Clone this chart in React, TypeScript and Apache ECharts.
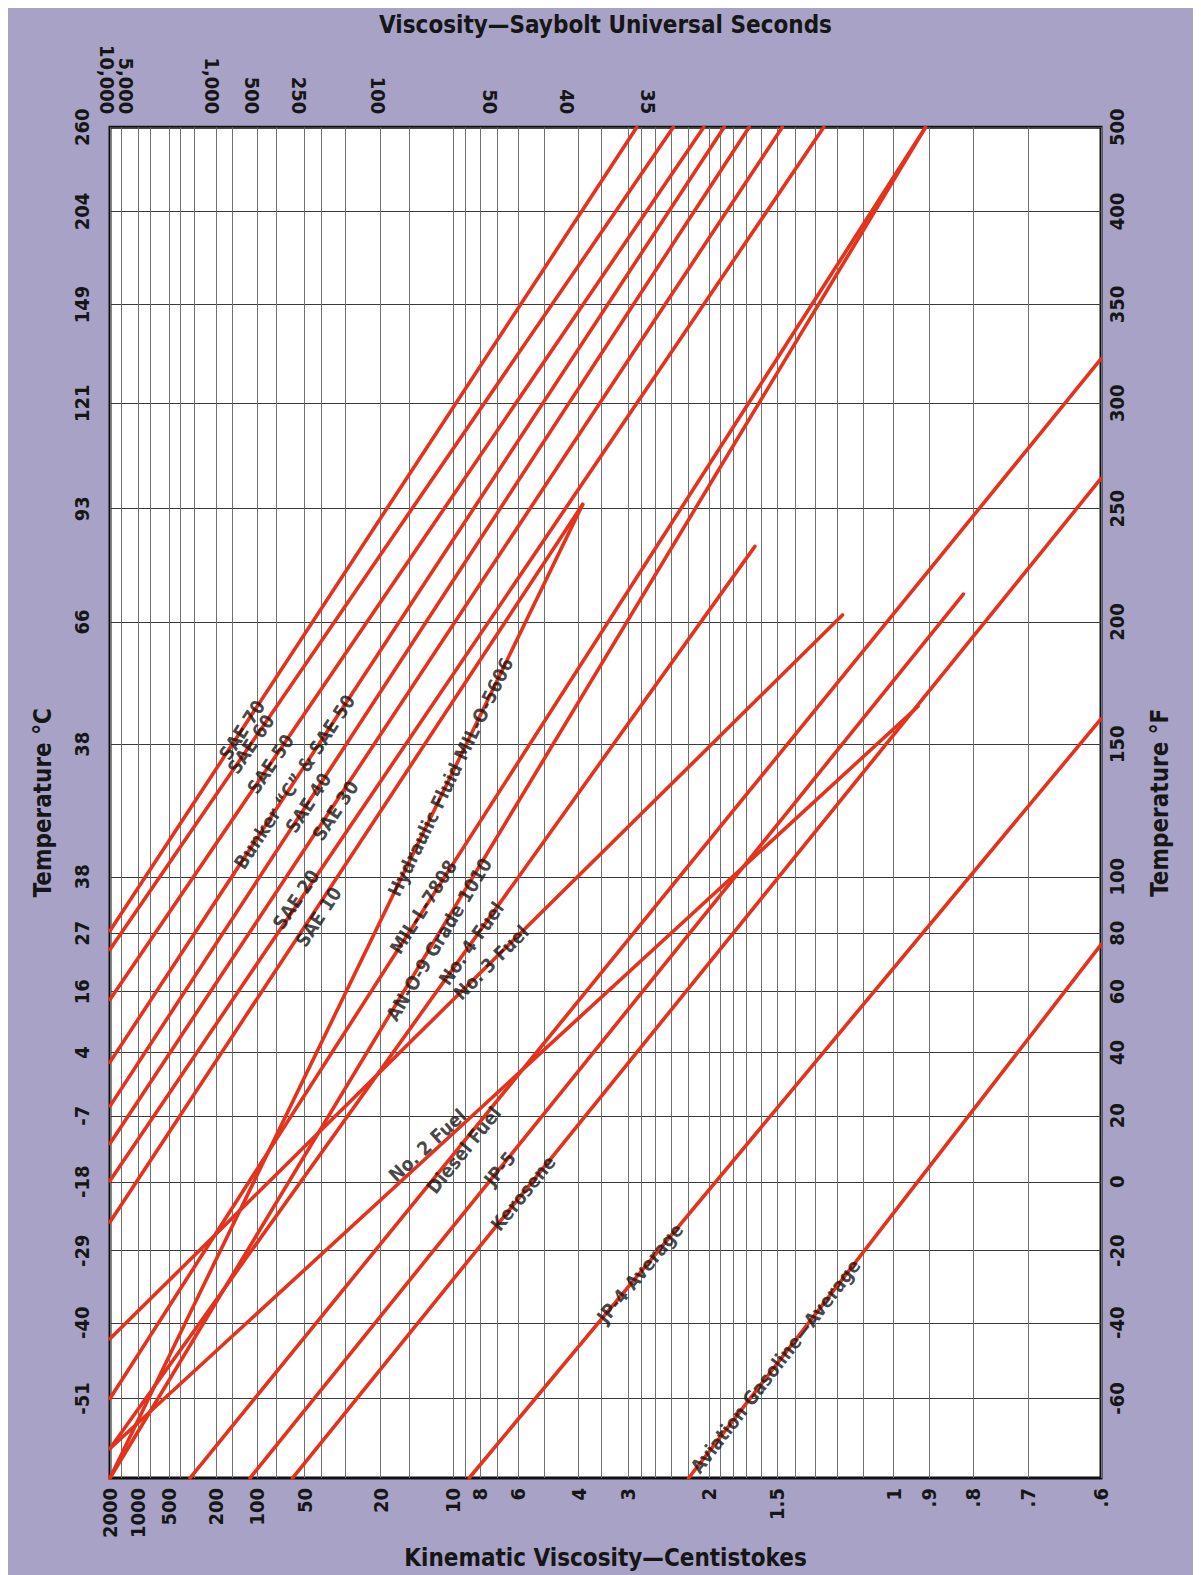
import React, { useEffect, useRef } from "react";
import * as echarts from "echarts";

// ---------------- axis definitions ----------------
const cstGrid = [2000, 1500, 1000, 750, 500, 400, 300, 200, 150, 100, 75, 50, 40, 30, 20, 15, 10, 9, 8, 7, 6, 5, 4, 3.5, 3, 2.8, 2.6, 2.4, 2.2, 2, 1.9, 1.8, 1.7, 1.6, 1.5, 1.4, 1.3, 1.2, 1.1, 1, 0.9, 0.8, 0.7, 0.6];
const cstTicks = [2000, 1000, 500, 200, 100, 50, 20, 10, 8, 6, 4, 3, 2, 1.5, 1, 0.9, 0.8, 0.7, 0.6];
const cstTickLabels = ["2000", "1000", "500", "200", "100", "50", "20", "10", "8", "6", "4", "3", "2", "1.5", "1", ".9", ".8", ".7", ".6"];
const susTickCst = [1700, 216, 108, 54, 20.6, 7.4, 4.3, 2.7];
const susTickLabels = ["5,000\n10,000", "1,000", "500", "250", "100", "50", "40", "35"];
const tempTicksF = [-60, -40, -20, 0, 20, 40, 60, 80, 100, 150, 200, 250, 300, 350, 400, 448];
const tempLabelsF = ["-60", "-40", "-20", "0", "20", "40", "60", "80", "100", "150", "200", "250", "300", "350", "400", "500"];
const tempLabelsC = ["-51", "-40", "-29", "-18", "-7", "4", "16", "27", "38", "38", "66", "93", "121", "149", "204", "260"];
const cstMin = 0.6;
const cstMax = 2000;
const tempMinF = -80;
const tempMaxF = 448;

// ---------------- line data: [cSt, °F] ----------------
const sae70 = [[2000, 80.8], [2.86, 448]];
const sae60 = [[2000, 74.3], [2.37, 448]];
const sae50 = [[2000, 57.4], [2.05, 448]];
const bunkerC = [[2000, 36.9], [1.87, 448]];
const sae40 = [[2000, 23.0], [1.68, 448]];
const sae30 = [[2000, 11.5], [1.47, 448]];
const sae20 = [[2000, 0.3], [1.26, 448]];
const sae10 = [[2000, -11.8], [3.9, 252]];
const hydraulic5606 = [[2000, -80], [3.9, 252]];
const mil7808 = [[2000, -60], [0.91, 448]];
const an09 = [[2000, -80], [0.91, 448]];
const no4Fuel = [[2000, -72.7], [1.64, 233]];
const no3Fuel = [[2000, -44.3], [1.18, 203]];
const no2Fuel = [[2000, -72.7], [0.93, 165]];
const dieselFuel = [[327, -80], [0.6, 322]];
const jp5 = [[112, -80], [0.82, 212]];
const kerosene = [[59, -80], [0.6, 264]];
const jp4 = [[8.73, -80], [0.6, 160]];
const avgas = [[2.2, -80], [0.6, 76]];

const lineNames = [
  "SAE 70", "SAE 60", "SAE 50", "Bunker \u201CC\u201D & SAE 50", "SAE 40", "SAE 30", "SAE 20", "SAE 10",
  "Hydraulic Fluid MIL-O-5606", "MIL-L-7808", "AN-O-9 Grade 1010", "No. 4 Fuel", "No. 3 Fuel",
  "No. 2 Fuel", "Diesel Fuel", "JP-5", "Kerosene", "JP-4 Average", "Aviation Gasoline\u2014Average",
];
const lineData = [
  sae70, sae60, sae50, bunkerC, sae40, sae30, sae20, sae10,
  hydraulic5606, mil7808, an09, no4Fuel, no3Fuel,
  no2Fuel, dieselFuel, jp5, kerosene, jp4, avgas,
];
// label placement: fraction along each line, and sideways shift in px (+ = up-left)
const labelAt = [0.25, 0.25, 0.27, 0.3, 0.31, 0.33, 0.265, 0.43, 0.72, 0.386, 0.4, 0.56, 0.52, 0.4, 0.296, 0.35, 0.285, 0.27, 0.21];
const labelShift = [0, 0, 0, 0, 0, -4, 4, -6, 0, 2, -3, 0, 0, 9, -5, 0, 0, 0, 0];

// ---------------- scales ----------------
const fx = (cst: number) => Math.log10(Math.log10(cst + 0.7));
const fy = (f: number) => Math.log10(f + 460);

const FONT = "'Liberation Sans Narrow','Arial Narrow','DejaVu Sans Condensed','DejaVu Sans',sans-serif";
const INK = "#161616";
const RED = "#e4321c";

function labeler(values: number[], labels: string[], tf: (v: number) => number) {
  const keys = values.map(tf);
  return (v: number) => {
    let best = -1;
    let bd = Infinity;
    keys.forEach((k, i) => {
      const d = Math.abs(k - v);
      if (d < bd) {
        bd = d;
        best = i;
      }
    });
    return bd < 1e-6 ? labels[best] : "";
  };
}

const tickFont = { fontSize: 20, fontWeight: "bold" as const, fontFamily: FONT, color: INK };
const nameFont = { fontSize: 24, fontWeight: "bold" as const, fontFamily: FONT, color: INK };

export default function App() {
  const ref = useRef<HTMLDivElement>(null);
  useEffect(() => {
    document.documentElement.style.overflow = "hidden";
    document.body.style.overflow = "hidden";
    if (!ref.current) return;
    const chart = echarts.init(ref.current, null, { renderer: "svg" });
    const xMin = fx(cstMin), xMax = fx(cstMax), yMin = fy(tempMinF), yMax = fy(tempMaxF);

    const lineSeries = lineData.map((pts, i) => ({
      type: "line",
      name: lineNames[i],
      xAxisIndex: 0,
      yAxisIndex: 0,
      showSymbol: false,
      symbol: "none",
      silent: true,
      z: 3,
      lineStyle: { color: RED, width: 3.6, cap: "round" },
      data: pts.map(([c, t]) => [fx(c), fy(t)]),
    }));

    const option: any = {
      animation: false,
      grid: {
        left: 102, right: 93, top: 100, bottom: 90,
        show: true, backgroundColor: "#ffffff", borderColor: "#111", borderWidth: 3,
      },
      xAxis: [
        {
          type: "value", position: "bottom", min: xMin, max: xMax, inverse: true,
          axisLine: { show: false },
          axisTick: { show: false, customValues: cstGrid.map(fx) },
          splitLine: { show: true, lineStyle: { color: "#707070", width: 1 } },
          axisLabel: {
            ...tickFont, rotate: 90, margin: 10, showMinLabel: true, showMaxLabel: true, hideOverlap: false,
            customValues: cstTicks.map(fx), formatter: labeler(cstTicks, cstTickLabels, fx),
          },
          name: "Kinematic Viscosity\u2014Centistokes", nameLocation: "middle", nameGap: 46,
          nameTextStyle: nameFont,
        },
        {
          type: "value", position: "top", min: xMin, max: xMax, inverse: true,
          axisLine: { show: false },
          axisTick: { show: false, customValues: susTickCst.map(fx) },
          splitLine: { show: false },
          axisLabel: {
            ...tickFont, rotate: 90, margin: 13, showMinLabel: true, showMaxLabel: true, hideOverlap: false,
            lineHeight: 19,
            customValues: susTickCst.map(fx), formatter: labeler(susTickCst, susTickLabels, fx),
          },
          name: "Viscosity\u2014Saybolt Universal Seconds", nameLocation: "middle", nameGap: 66,
          nameTextStyle: nameFont,
        },
      ],
      yAxis: [
        {
          type: "value", position: "left", min: yMin, max: yMax,
          axisLine: { show: false },
          axisTick: { show: false, customValues: tempTicksF.map(fy) },
          splitLine: { show: true, lineStyle: { color: "#3a3a3a", width: 1 } },
          axisLabel: {
            ...tickFont, rotate: 90, margin: 18, showMinLabel: true, showMaxLabel: true, hideOverlap: false,
            customValues: tempTicksF.map(fy), formatter: labeler(tempTicksF, tempLabelsC, fy),
          },
          name: "Temperature \u00B0C", nameLocation: "middle", nameGap: 55, nameRotate: 90,
          nameTextStyle: nameFont,
        },
        {
          type: "value", position: "right", min: yMin, max: yMax,
          axisLine: { show: false },
          axisTick: { show: false, customValues: tempTicksF.map(fy) },
          splitLine: { show: false },
          axisLabel: {
            ...tickFont, rotate: 90, margin: 6, showMinLabel: true, showMaxLabel: true, hideOverlap: false,
            customValues: tempTicksF.map(fy), formatter: labeler(tempTicksF, tempLabelsF, fy),
          },
          name: "Temperature \u00B0F", nameLocation: "middle", nameGap: 47, nameRotate: 90,
          nameTextStyle: nameFont,
        },
      ],
      series: lineSeries,
    };
    chart.setOption(option);

    const finder = { xAxisIndex: 0, yAxisIndex: 0 };
    const labelData = lineData.map((pts, i) => {
      const a = [fx(pts[0][0]), fy(pts[0][1])];
      const b = [fx(pts[pts.length - 1][0]), fy(pts[pts.length - 1][1])];
      const pa = chart.convertToPixel(finder, a) as number[];
      const pb = chart.convertToPixel(finder, b) as number[];
      const dx = pb[0] - pa[0];
      const dy = pb[1] - pa[1];
      const len = Math.hypot(dx, dy) || 1;
      const ang = (Math.atan2(-dy, dx) * 180) / Math.PI;
      const t = labelAt[i];
      const s = labelShift[i];
      const px = pa[0] + dx * t + (dy / len) * s;
      const py = pa[1] + dy * t + (-dx / len) * s;
      const v = chart.convertFromPixel(finder, [px, py]) as number[];
      return {
        value: v,
        label: { rotate: ang, formatter: lineNames[i] },
      };
    });
    chart.setOption({
      series: [
        ...lineSeries,
        {
          type: "scatter",
          xAxisIndex: 0,
          yAxisIndex: 0,
          symbolSize: 1,
          itemStyle: { color: "rgba(0,0,0,0)" },
          silent: true,
          z: 5,
          label: {
            show: true, position: "inside", fontSize: 19, fontWeight: "bold", fontFamily: FONT, color: INK,
          },
          labelLayout: { hideOverlap: false },
          data: labelData,
        },
      ],
    });
    return () => chart.dispose();
  }, []);

  return (
    <div
      ref={ref}
      style={{ width: 1186, height: 1567, background: "#a8a2c7", borderRight: "2px solid #2a2a2a" }}
    />
  );
}
